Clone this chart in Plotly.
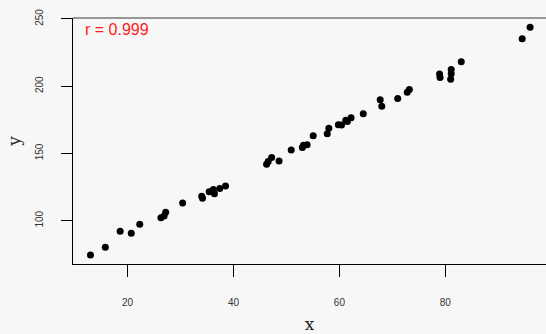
import plotly.graph_objects as go

# Scatter data
x_vals = [13.0, 15.8, 18.6, 20.7, 22.3, 26.3, 26.9, 27.2, 30.4, 34.0,
          34.15, 35.4, 36.2, 36.4, 37.4, 38.5, 46.25, 46.55, 47.2, 48.6,
          50.9, 53.0, 53.2, 53.9, 55.05, 57.7, 58.0, 59.8, 60.4, 61.2,
          61.5, 62.2, 64.5, 67.7, 68.0, 71.0, 72.8, 73.2, 78.9, 79.0,
          81.1, 81.1, 81.0, 83.0, 94.5, 96.0]
y_vals = [74.5, 80.2, 92.2, 90.6, 97.3, 102.2, 103.5, 106.25, 113.2, 118.2,
          116.7, 121.6, 123.2, 120.1, 124.0, 125.8, 142.0, 144.0, 146.9, 144.4,
          152.5, 154.5, 156.1, 156.5, 163.2, 164.7, 168.8, 171.4, 171.1, 174.6,
          173.7, 176.6, 179.5, 190.0, 185.1, 190.8, 195.5, 197.6, 209.0, 206.5,
          212.5, 209.3, 205.1, 218.1, 235.2, 243.9]

x_ticks = [20, 40, 60, 80]
y_ticks = [100, 150, 200, 250]
r_label = "r = 0.999"

bg = "#f7f7f7"
tick_font = dict(family="Liberation Sans, Arial, sans-serif", size=10, color="#333333")

fig = go.Figure(
    go.Scatter(
        x=x_vals, y=y_vals, mode="markers",
        marker=dict(color="black", size=7, line=dict(width=0)),
        hoverinfo="skip",
    )
)

fig.update_layout(
    width=546, height=334,
    margin=dict(l=73, r=0, t=18, b=70),
    paper_bgcolor=bg, plot_bgcolor=bg,
    showlegend=False,
    xaxis=dict(
        range=[9.7, 99.0], tickvals=x_ticks, ticktext=[str(v) for v in x_ticks],
        showgrid=False, zeroline=False,
        showline=True, linecolor="black", linewidth=1,
        ticks="outside", ticklen=12, tickcolor="black", tickwidth=1,
        ticklabelstandoff=17, tickfont=tick_font,
        title=dict(text="x", standoff=11,
                   font=dict(family="DejaVu Serif, serif", size=17, color="#222222")),
    ),
    yaxis=dict(
        range=[67.8, 250.7], tickvals=y_ticks, ticktext=[str(v) for v in y_ticks],
        showgrid=False, zeroline=False,
        showline=True, linecolor="black", linewidth=1,
        ticks="outside", ticklen=11, tickcolor="black", tickwidth=1,
        tickangle=-90, ticklabelstandoff=14, tickfont=tick_font,
        title=dict(text="y", standoff=9,
                   font=dict(family="DejaVu Serif, serif", size=17, color="#222222")),
    ),
    shapes=[
        dict(type="line", xref="paper", yref="paper", x0=0, x1=1, y0=1, y1=1,
             line=dict(color="#777777", width=1.5)),
    ],
    annotations=[
        dict(text=r_label, xref="paper", yref="paper", x=0.022, y=0.955,
             xanchor="left", yanchor="middle", showarrow=False,
             font=dict(family="Liberation Sans, Arial, sans-serif", size=16, color="#ff1a1a")),
    ],
)

fig.write_html("out.html")
